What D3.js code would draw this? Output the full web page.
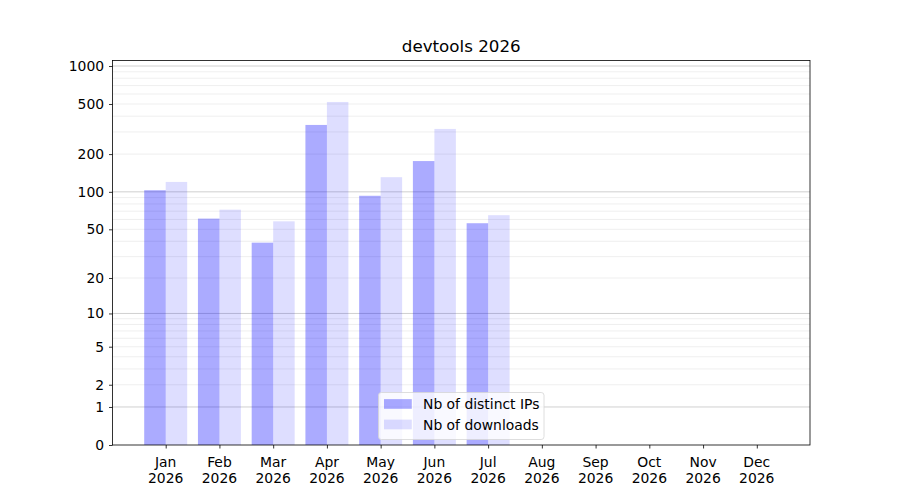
<!DOCTYPE html>
<html>
  <head>
    <meta charset="utf-8" />
    <title>devtools 2026</title>
    <script src="https://d3js.org/d3.v7.min.js"></script>
    <style>
        body {margin: 0; background: #fff;}
        svg text {font-family: "DejaVu Sans", sans-serif; fill: #000;}
    </style>
  </head>
  <body>

    <svg id="chart" width="900" height="500"></svg>

    <script>

        // data
        var months = ["Jan", "Feb", "Mar", "Apr", "May", "Jun", "Jul", "Aug", "Sep", "Oct", "Nov", "Dec"];
        var year = "2026";
        var distinctIPs = [103, 61, 39, 341, 93, 176, 56, 0, 0, 0, 0, 0];
        var downloads = [120, 72, 58, 519, 131, 317, 65, 0, 0, 0, 0, 0];
        var yTicks = [0, 1, 2, 5, 10, 20, 50, 100, 200, 500, 1000];
        var majorGrid = [1, 10, 100, 1000];
        var minorGrid = [2, 3, 4, 5, 6, 7, 8, 9, 20, 30, 40, 50, 60, 70, 80, 90,
                         200, 300, 400, 500, 600, 700, 800, 900];
        var seriesNames = ["Nb of distinct IPs", "Nb of downloads"];

        // plot box (window.top is read-only, so no plain "top")
        var axL = 112.5, axR = 810, axT = 60.5, axB = 445;
        var svg = d3.select("#chart");

        var x = d3.scaleLinear().domain([-0.99, 11.99]).range([axL, axR]);
        var y = d3.scaleSymlog().constant(1).domain([0, 1106]).range([axB, axT]);

        // grid
        svg.append("g").selectAll("line").data(minorGrid).enter().append("line")
            .attr("x1", axL).attr("x2", axR)
            .attr("y1", function(d){ return y(d); })
            .attr("y2", function(d){ return y(d); })
            .attr("stroke", "#ebebeb").attr("stroke-width", 0.8);

        svg.append("g").selectAll("line").data(majorGrid).enter().append("line")
            .attr("x1", axL).attr("x2", axR)
            .attr("y1", function(d){ return y(d); })
            .attr("y2", function(d){ return y(d); })
            .attr("stroke", "#c4c4c4").attr("stroke-width", 0.8);

        // bars
        var bw = x(0.4) - x(0);

        svg.append("g").selectAll("rect").data(distinctIPs).enter().append("rect")
            .attr("x", function(d, i){ return x(i - 0.4); })
            .attr("width", bw)
            .attr("y", function(d){ return y(d); })
            .attr("height", function(d){ return axB - y(d); })
            .attr("fill", "blue").attr("fill-opacity", 0.33);

        svg.append("g").selectAll("rect").data(downloads).enter().append("rect")
            .attr("x", function(d, i){ return x(i); })
            .attr("width", bw)
            .attr("y", function(d){ return y(d); })
            .attr("height", function(d){ return axB - y(d); })
            .attr("fill", "blue").attr("fill-opacity", 0.13);

        // axes
        var yAxis = d3.axisLeft(y).tickValues(yTicks).tickFormat(d3.format("d"))
            .tickSize(3.5).tickPadding(4.9);
        var gy = svg.append("g").attr("transform", "translate(" + axL + ",0)").call(yAxis);
        gy.select(".domain").remove();
        gy.selectAll("text").style("font-size", "13.9px");
        gy.selectAll("line").attr("stroke", "#000").attr("stroke-width", 0.8);

        var xAxis = d3.axisBottom(x).tickValues(d3.range(12)).tickFormat("")
            .tickSize(3.5);
        var gx = svg.append("g").attr("transform", "translate(0," + axB + ")").call(xAxis);
        gx.select(".domain").remove();
        gx.selectAll("line").attr("stroke", "#000").attr("stroke-width", 0.8);

        var lab = svg.append("g").selectAll("text").data(months).enter().append("text")
            .attr("x", function(d, i){ return x(i); })
            .attr("y", 467)
            .attr("text-anchor", "middle")
            .style("font-size", "13.9px");
        lab.append("tspan").attr("x", function(d, i){ return x(i); }).text(function(d){ return d; });
        lab.append("tspan").attr("x", function(d, i){ return x(i); }).attr("dy", 16.2).text(year);

        // frame
        svg.append("rect")
            .attr("x", axL).attr("y", axT)
            .attr("width", axR - axL).attr("height", axB - axT)
            .attr("fill", "none").attr("stroke", "#000").attr("stroke-width", 0.8);

        // title
        svg.append("text")
            .attr("x", (axL + axR) / 2).attr("y", 52)
            .attr("text-anchor", "middle")
            .style("font-size", "16.7px")
            .text("devtools 2026");

        // legend
        var lg = svg.append("g");
        lg.append("rect")
            .attr("x", 378.5).attr("y", 392.5)
            .attr("width", 165.5).attr("height", 47)
            .attr("rx", 2.8)
            .attr("fill", "#fff").attr("fill-opacity", 0.8)
            .attr("stroke", "#d6d6d6").attr("stroke-width", 0.8);

        var opac = [0.33, 0.13];
        var item = lg.selectAll("g.item").data(seriesNames).enter().append("g")
            .attr("class", "item")
            .attr("transform", function(d, i){ return "translate(0," + (404 + i * 20.5) + ")"; });
        item.append("rect")
            .attr("x", 384).attr("y", -4.9)
            .attr("width", 27.8).attr("height", 9.7)
            .attr("fill", "blue")
            .attr("fill-opacity", function(d, i){ return opac[i]; });
        item.append("text")
            .attr("x", 423).attr("y", 5)
            .style("font-size", "13.9px")
            .text(function(d){ return d; });

    </script>

  </body>
</html>
